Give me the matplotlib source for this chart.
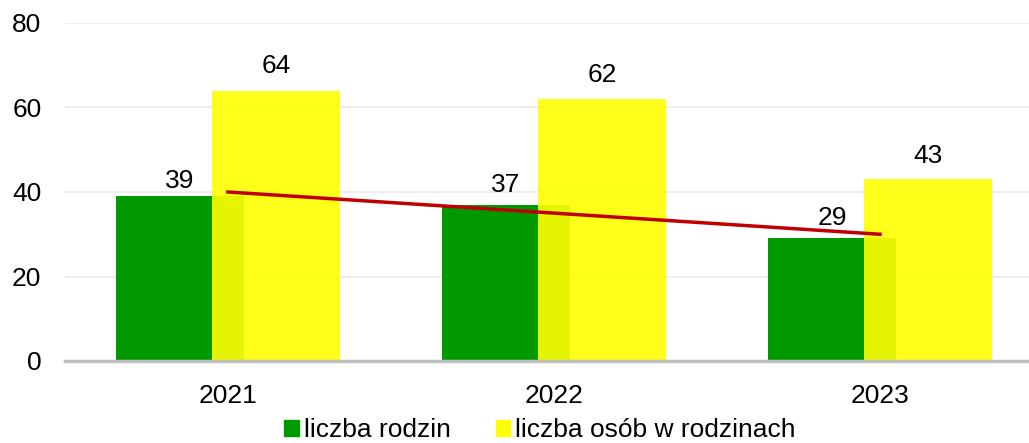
import matplotlib.pyplot as plt
import numpy as np
from matplotlib.patches import Patch

# data
years = ['2021', '2022', '2023']
rodziny = [39, 37, 29]
osoby = [64, 62, 43]
labels = ['liczba rodzin', 'liczba osób w rodzinach']

# gap between bar top and label baseline, in pixels (as in the original)
gap_rodziny = [8, 13, 13]
gap_osoby = [18, 17, 16]

plt.rcParams['font.family'] = ['Liberation Sans', 'DejaVu Sans']
plt.rcParams['font.size'] = 19

fig = plt.figure(figsize=(10.29, 4.43), dpi=100)
# plot area runs a bit past the right edge of the picture
ax = fig.add_axes([65 / 1029, 1 - 361 / 443, 978 / 1029, 338 / 443])

x = np.arange(len(years))
w = 0.393
off = 0.147

bars1 = ax.bar(x - off, rodziny, w, color='#009900', zorder=2)
bars2 = ax.bar(x + off, osoby, w, color='#ffff00', alpha=0.9, zorder=3)

# linear trend of the families series
k, b = np.polyfit(x, rodziny, 1)
ax.plot(x, k * x + b, color='#c00000', lw=2.5, zorder=4)

for bars, vals, gaps in [(bars1, rodziny, gap_rodziny), (bars2, osoby, gap_osoby)]:
    for bar, v, g in zip(bars, vals, gaps):
        ax.annotate(f'{v}', (bar.get_x() + bar.get_width() / 2, v),
                    xytext=(0, g * 0.72), textcoords='offset points',
                    ha='center', va='baseline')

ax.set_xlim(-0.5, 2.5)
ax.set_ylim(0, 80)
ax.set_yticks([0, 20, 40, 60, 80])
ax.set_xticks(x)
ax.set_xticklabels(years)
ax.yaxis.grid(True, color='#eeeeee', lw=1.5, zorder=0)
ax.set_axisbelow(True)
for s in ['top', 'right', 'left']:
    ax.spines[s].set_visible(False)
ax.spines['bottom'].set_color('#bfbfbf')
ax.spines['bottom'].set_linewidth(2.5)
ax.spines['bottom'].set_zorder(5)
ax.tick_params(length=0)
ax.tick_params(axis='x', pad=16.5)
ax.tick_params(axis='y', pad=17)

handles = [Patch(color='#009900'), Patch(color='#ffff00')]
fig.legend(handles, labels, loc='center', bbox_to_anchor=(540 / 1029, 1 - 430 / 443),
           ncol=2, frameon=False, handlelength=0.55, handleheight=0.55,
           handletextpad=0.2, columnspacing=1.7, fontsize=19, borderpad=0.1)

fig.savefig('out.png', dpi=100)
